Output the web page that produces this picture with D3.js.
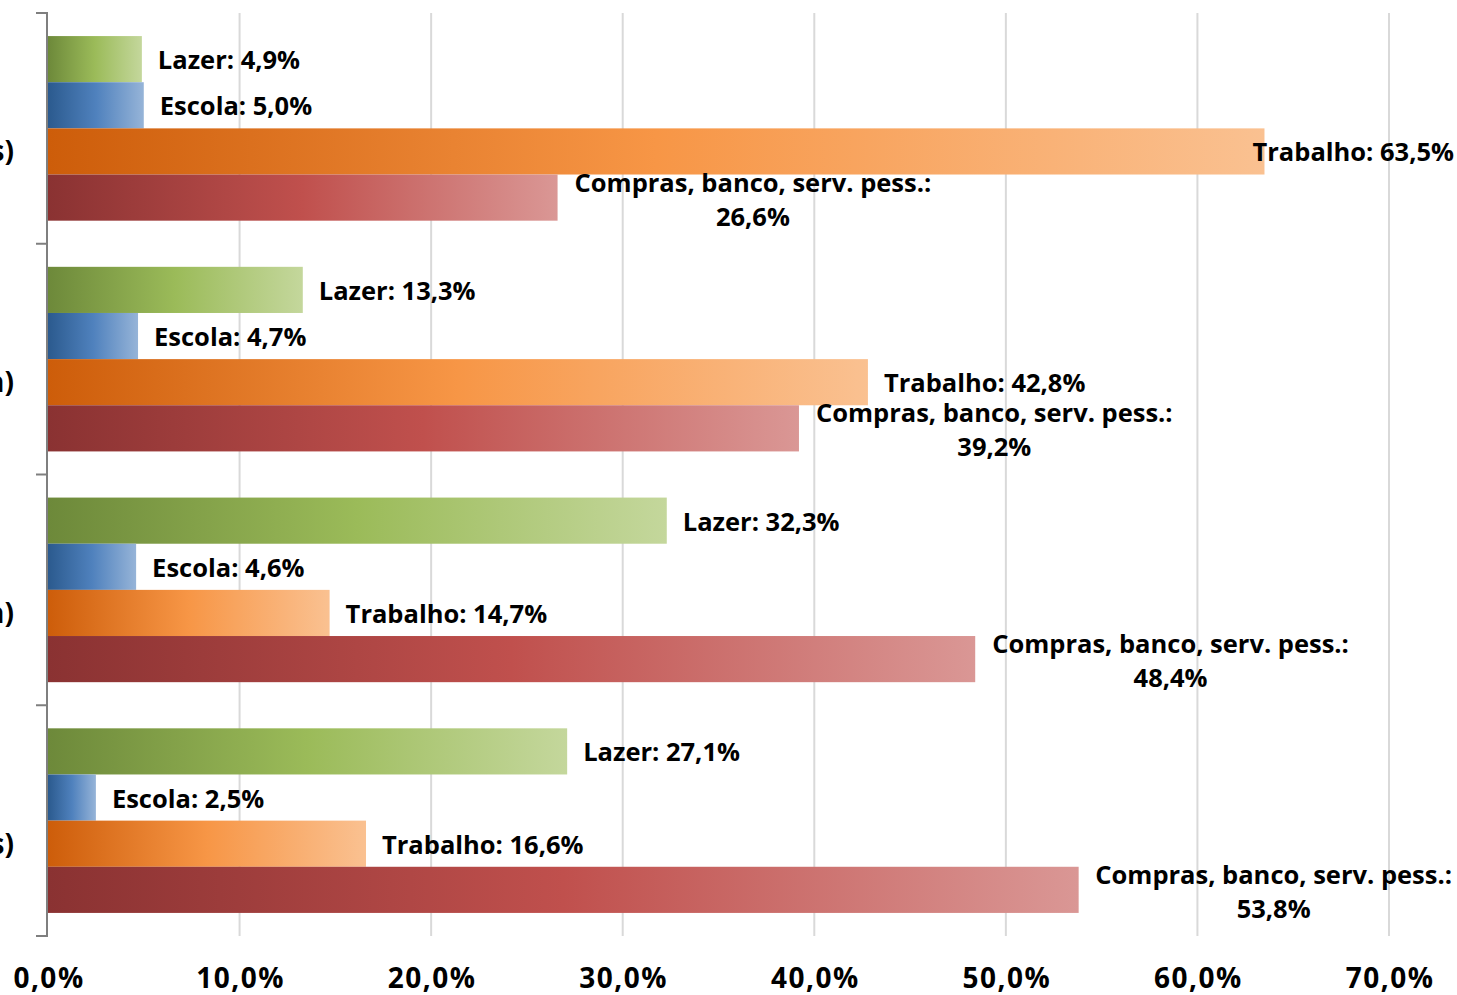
<!DOCTYPE html>
<html>
<head>
<meta charset="utf-8">
<script src="https://cdn.jsdelivr.net/npm/d3@7"></script>
<style>
  html, body { margin: 0; padding: 0; background: #fff; }
  svg { display: block; }
  .lbl { font-family: "Open Sans", sans-serif; font-weight: 700; font-size: 25.5px; fill: #000; }
  .tick-lbl { font-family: "Open Sans", sans-serif; font-weight: 700; font-size: 28px; fill: #000; letter-spacing: 1.5px; }
</style>
</head>
<body>
<div id="chart"></div>
<script>
// categories (only the tail of each label is visible, the rest is cut off on the left)
const categories = [
  ["Curtas", "(até 15 minutos)"],
  ["Médias", "(de 15 a 30 min)"],
  ["Longas", "(de 30 a 60 min)"],
  ["Muito longas", "(mais de 60 minutos)"]
];

const seriesNames = ["Lazer", "Escola", "Trabalho", "Compras, banco, serv. pess."];

const lazer    = [4.9, 13.3, 32.3, 27.1];
const escola   = [5.0, 4.7, 4.6, 2.5];
const trabalho = [63.5, 42.8, 14.7, 16.6];
const compras  = [26.6, 39.2, 48.4, 53.8];

const xTicks = [0, 10, 20, 30, 40, 50, 60, 70];

const W = 1457, H = 995;
const x0 = 48, x1 = 1389, yTop = 13, yBot = 936;

const fills = [
  ["#6d893a", "#9bbb59", "#c4d79c"],
  ["#2b5a8e", "#4f81bd", "#96b4d8"],
  ["#cd5d0a", "#f79646", "#fac191"],
  ["#8a3232", "#c0504d", "#da9795"]
];

const values = [lazer, escola, trabalho, compras];
const fmt = v => d3.format(".1f")(v).replace(".", ",") + "%";

const svg = d3.select("#chart").append("svg")
  .attr("width", W)
  .attr("height", H);

const defs = svg.append("defs");
fills.forEach((f, i) => {
  const g = defs.append("linearGradient")
    .attr("id", "grad" + i)
    .attr("x1", 0).attr("y1", 0).attr("x2", 1).attr("y2", 0);
  g.append("stop").attr("offset", "0%").attr("stop-color", f[0]);
  g.append("stop").attr("offset", "50%").attr("stop-color", f[1]);
  g.append("stop").attr("offset", "100%").attr("stop-color", f[2]);
});

const x = d3.scaleLinear().domain([0, 70]).range([x0, x1]);

const y = d3.scaleBand()
  .domain(d3.range(categories.length))
  .range([yTop, yBot])
  .paddingInner(0.2)
  .paddingOuter(0.1);

const ySeries = d3.scaleBand()
  .domain(d3.range(seriesNames.length))
  .range([0, y.bandwidth()])
  .padding(0);

// gridlines
svg.append("g")
  .selectAll("line")
  .data(xTicks.filter(d => d > 0))
  .join("line")
  .attr("x1", d => x(d)).attr("x2", d => x(d))
  .attr("y1", yTop).attr("y2", yBot)
  .attr("stroke", "#d9d9d9")
  .attr("stroke-width", 2);

// x tick labels
svg.append("g")
  .selectAll("text")
  .data(xTicks)
  .join("text")
  .attr("class", "tick-lbl")
  .attr("x", d => x(d) + 1)
  .attr("y", 988)
  .attr("text-anchor", "middle")
  .text(d => fmt(d));

// bars
const groups = svg.append("g")
  .selectAll("g")
  .data(categories)
  .join("g")
  .attr("transform", (d, i) => "translate(0," + y(i) + ")");

groups.each(function(cat, ci) {
  const g = d3.select(this);
  values.forEach((vals, si) => {
    g.append("rect")
      .attr("x", x(0))
      .attr("y", ySeries(si))
      .attr("width", x(vals[ci]) - x(0))
      .attr("height", ySeries.bandwidth())
      .attr("fill", "url(#grad" + si + ")");
  });
});

// axis line with ticks between groups
const axis = svg.append("g");
axis.append("line")
  .attr("x1", x0 - 1).attr("x2", x0 - 1)
  .attr("y1", yTop).attr("y2", yBot)
  .attr("stroke", "#7f7f7f").attr("stroke-width", 2);
const bounds = d3.range(categories.length + 1).map(i => yTop + i * y.step());
axis.selectAll("line.tk")
  .data(bounds)
  .join("line")
  .attr("class", "tk")
  .attr("x1", x0 - 12).attr("x2", x0)
  .attr("y1", d => d).attr("y2", d => d)
  .attr("stroke", "#7f7f7f").attr("stroke-width", 2);

// category labels (cut off at the left edge)
categories.forEach((cat, ci) => {
  const cy = y(ci) + y.bandwidth() / 2;
  const t = svg.append("text")
    .attr("class", "tick-lbl")
    .style("letter-spacing", "0px")
    .attr("text-anchor", "middle");
  const l2 = t.append("tspan").attr("y", cy + 33).text(cat[1]);
  const w = l2.node().getComputedTextLength();
  const cx = 14 - w / 2;
  l2.attr("x", cx);
  t.insert("tspan", "tspan").attr("x", cx).attr("y", cy - 13).text(cat[0]);
});

// data labels
const labels = svg.append("g");
categories.forEach((cat, ci) => {
  values.forEach((vals, si) => {
    const v = vals[ci];
    const cy = y(ci) + ySeries(si) + ySeries.bandwidth() / 2;
    const start = x(v) + 16;
    if (si < 3) {
      const t = labels.append("text")
        .attr("class", "lbl")
        .attr("y", cy + 10)
        .text(seriesNames[si] + ": " + fmt(v));
      const w = t.node().getComputedTextLength();
      t.attr("x", Math.min(start, W - 3 - w));
    } else {
      const t = labels.append("text")
        .attr("class", "lbl")
        .attr("text-anchor", "middle");
      const a = t.append("tspan").attr("y", cy - 6).text(seriesNames[si] + ":");
      const w = a.node().getComputedTextLength();
      const s = Math.min(start + 1, W - 5 - w);
      a.attr("x", s + w / 2);
      t.append("tspan").attr("x", s + w / 2).attr("y", cy + 28).text(fmt(v));
    }
  });
});
</script>
</body>
</html>
